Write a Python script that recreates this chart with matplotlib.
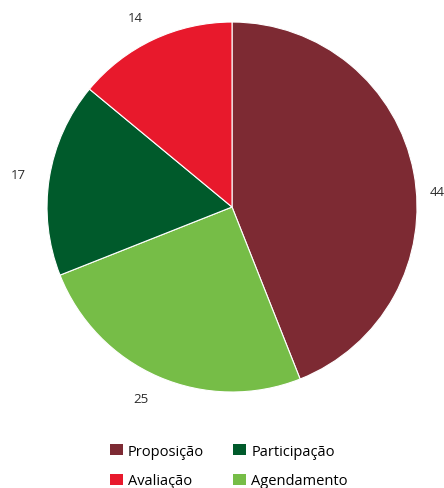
import matplotlib
matplotlib.use("Agg")
import matplotlib.pyplot as plt
from matplotlib.patches import Patch

plt.rcParams["font.family"] = ["Open Sans", "DejaVu Sans"]

# dados (sentido horário a partir do topo)
categorias = ["Proposição", "Agendamento", "Participação", "Avaliação"]
valores = [44, 25, 17, 14]
cores = ["#7d2a33", "#76bd47", "#005a2b", "#e8192c"]

# ordem da legenda (preenchida por colunas)
ordem_legenda = ["Proposição", "Avaliação", "Participação", "Agendamento"]

fig = plt.figure(figsize=(4.44, 4.89), dpi=100)
ax = fig.add_axes([0.1059, 0.1963, 0.8333, 0.7566])

wedges, textos = ax.pie(
    valores,
    labels=[str(v) for v in valores],
    colors=cores,
    startangle=90,
    counterclock=False,
    labeldistance=1.13,
    wedgeprops=dict(edgecolor="white", linewidth=0.8),
    textprops=dict(fontsize=9.5, color="#2b2b2b"),
)
# o rótulo do maior setor fica mais baixo, junto à borda direita
textos[0].set_position((1.07, 0.085))
textos[0].set_horizontalalignment("left")

ax.set_aspect("equal")
ax.set_xlim(-1, 1)
ax.set_ylim(-1, 1)

mapa = dict(zip(categorias, cores))
handles = [Patch(facecolor=mapa[c], edgecolor="none", label=c) for c in ordem_legenda]
fig.legend(
    handles=handles,
    loc="center",
    bbox_to_anchor=(0.515, 0.045),
    ncol=2,
    frameon=False,
    fontsize=10.5,
    handlelength=0.9,
    handleheight=0.75,
    handletextpad=0.35,
    columnspacing=2.0,
    labelspacing=1.0,
    borderpad=0.2,
)

fig.savefig("out.png", dpi=100)
